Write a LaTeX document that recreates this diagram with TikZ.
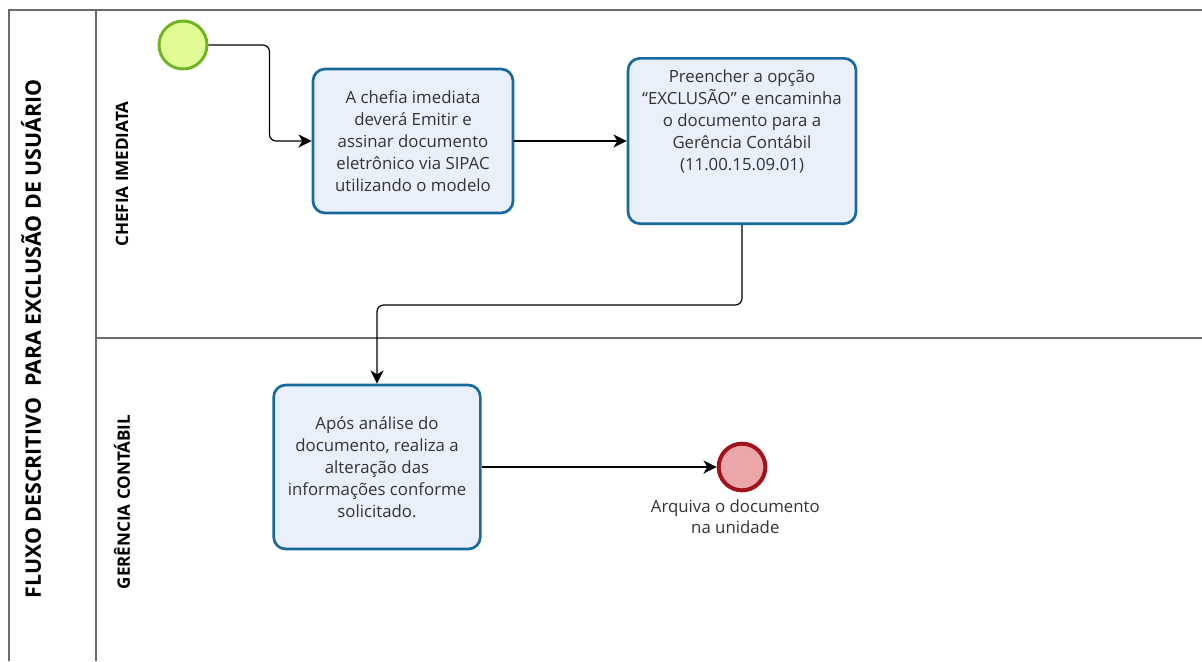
\documentclass[tikz,border=0pt]{standalone}
\usepackage{fontspec}
\setmainfont{Open Sans}
\usetikzlibrary{arrows.meta,positioning}
\definecolor{laneline}{HTML}{6B6B6B}
\definecolor{taskblue}{HTML}{196A9C}
\definecolor{taskfill}{HTML}{EAEFFC}
\definecolor{startgreen}{HTML}{6CB521}
\definecolor{startfill}{HTML}{E2FB95}
\definecolor{endred}{HTML}{A3121A}
\definecolor{endfill}{HTML}{EBA6AA}
\definecolor{txt}{HTML}{333333}
\tikzset{>={Stealth[length=10pt,width=10pt,inset=3pt]},task/.style={draw=taskblue,line width=2pt,rounded corners=9pt,fill=taskfill,align=center,text=txt,font=\fontsize{12.6}{16.5}\selectfont,inner sep=0pt},flow/.style={->,line width=0.9pt,rounded corners=5pt},lanetxt/.style={rotate=90,font=\bfseries\fontsize{12.8}{14}\selectfont},pool/.style={laneline,line width=1.1pt}}

\begin{document}
\begin{tikzpicture}[x=0.75pt,y=-0.75pt]
\useasboundingbox (0,0) rectangle (1202,661);
\draw[pool] (9,661) -- (9,10) -- (1202,10);
\draw[pool] (96,10) -- (96,661);
\draw[pool] (96,338) -- (1202,338);
\node[rotate=90,font=\bfseries\fontsize{16}{18}\selectfont] (title) at (31,339) {FLUXO DESCRITIVO\ \ PARA EXCLUSÃO DE USUÁRIO};
\node[lanetxt] (lane1) at (122,174) {CHEFIA IMEDIATA};
\node[lanetxt] (lane2) at (122,502) {GERÊNCIA CONTÁBIL};
\node[circle,draw=startgreen,fill=startfill,line width=2.2pt,minimum size=36pt,inner sep=0pt] (st) at (183,45) {};
\node[task,minimum width=150pt,minimum height=108pt] (t1) at (413,141) {A chefia imediata\\deverá Emitir e\\assinar documento\\eletrônico via SIPAC\\utilizando o modelo};
\node[task,minimum width=171pt,minimum height=124pt,label={[anchor=north,yshift=-6pt,align=center,text=txt,font=\fontsize{12.6}{16.5}\selectfont]north:{Preencher a opção\\“EXCLUSÃO” e encaminha\\o documento para a\\Gerência Contábil\\(11.00.15.09.01)}}] (t2) at (742,141) {};
\node[task,minimum width=155pt,minimum height=123pt] (t3) at (377,467) {Após análise do\\documento, realiza a\\alteração das\\informações conforme\\solicitado.};
\node[circle,draw=endred,fill=endfill,line width=3pt,minimum size=35pt,inner sep=0pt] (en) at (742,467) {};
\node[below=2pt of en,align=center,text=txt,font=\fontsize{12.6}{16}\selectfont,xshift=-5pt] (enlbl) {Arquiva o documento\\na unidade};
\draw[flow] (st.east) -- ++(61,0) |- (t1);
\draw[flow] (t1) -- (t2);
\draw[flow] (t2.south) -- ++(0,80) -| (t3);
\draw[flow] (t3) -- (en);
\end{tikzpicture}
\end{document}
